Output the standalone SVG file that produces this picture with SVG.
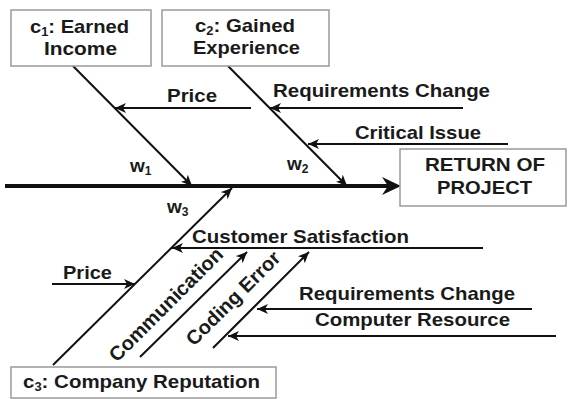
<svg xmlns="http://www.w3.org/2000/svg" width="568" height="399" viewBox="0 0 568 399">
<style>
.box{fill:#fff;stroke:#9a9a9a;stroke-width:1.5}
.t{font-family:"Liberation Sans",Arial,sans-serif;font-weight:bold;font-size:19px;fill:#1a1a1a}
.ln{stroke:#111;stroke-width:2;fill:none;marker-end:url(#ah)}
.sub{font-size:12px}
</style>
<defs>
<marker id="ah" markerUnits="userSpaceOnUse" markerWidth="12" markerHeight="10" viewBox="0 0 12 10" refX="11" refY="5" orient="auto">
<path d="M0,0 L11,5 L0,10 L3,5 z" fill="#111"/>
</marker>
</defs>
<rect width="568" height="399" fill="#fff"/>
<g id="connectors">
<line x1="5" y1="186" x2="390" y2="186" stroke="#111" stroke-width="4"/>
<polygon points="401,186 382,177 388,186 382,195" fill="#111"/>
<line class="ln" x1="73" y1="66" x2="192" y2="186"/>
<line class="ln" x1="228" y1="66" x2="347" y2="186"/>
<line class="ln" x1="53" y1="365" x2="232" y2="188"/>
<line class="ln" x1="251" y1="108" x2="115" y2="108"/>
<line class="ln" x1="463" y1="108" x2="270" y2="108"/>
<line class="ln" x1="508" y1="144" x2="308" y2="144"/>
<line class="ln" x1="483" y1="248" x2="172" y2="248"/>
<line class="ln" x1="52" y1="284" x2="135" y2="284"/>
<line class="ln" x1="140" y1="357" x2="247" y2="252"/>
<line class="ln" x1="213" y1="348" x2="309" y2="252"/>
<line class="ln" x1="532" y1="309" x2="257" y2="309"/>
<line class="ln" x1="556" y1="336" x2="228" y2="336"/>
</g>
<g id="c1">
<rect class="box" x="11" y="10" width="140" height="56"/>
<text class="t" x="30" y="33" textLength="99" lengthAdjust="spacingAndGlyphs">c<tspan class="sub" dy="3">1</tspan><tspan dy="-3">: Earned</tspan></text>
<text class="t" x="44" y="55" textLength="73" lengthAdjust="spacingAndGlyphs">Income</text>
</g>
<g id="c2">
<rect class="box" x="162" y="10" width="167" height="56"/>
<text class="t" x="195" y="32" textLength="100" lengthAdjust="spacingAndGlyphs">c<tspan class="sub" dy="3">2</tspan><tspan dy="-3">: Gained</tspan></text>
<text class="t" x="193" y="54" textLength="107" lengthAdjust="spacingAndGlyphs">Experience</text>
</g>
<g id="return">
<rect class="box" x="400" y="149" width="166" height="57"/>
<text class="t" x="425" y="171" textLength="120" lengthAdjust="spacingAndGlyphs">RETURN OF</text>
<text class="t" x="437" y="194" textLength="95" lengthAdjust="spacingAndGlyphs">PROJECT</text>
</g>
<g id="c3">
<rect class="box" x="11" y="367" width="265" height="31"/>
<text class="t" x="23" y="388" textLength="237" lengthAdjust="spacingAndGlyphs">c<tspan class="sub" dy="3">3</tspan><tspan dy="-3">: Company Reputation</tspan></text>
</g>
<g id="labels">
<text class="t" x="130" y="172">w<tspan class="sub" dy="3">1</tspan></text>
<text class="t" x="287" y="170">w<tspan class="sub" dy="3">2</tspan></text>
<text class="t" x="167" y="213">w<tspan class="sub" dy="3">3</tspan></text>
<text class="t" x="167" y="102" textLength="50" lengthAdjust="spacingAndGlyphs">Price</text>
<text class="t" x="273" y="97" textLength="217" lengthAdjust="spacingAndGlyphs">Requirements Change</text>
<text class="t" x="355" y="139" textLength="126" lengthAdjust="spacingAndGlyphs">Critical Issue</text>
<text class="t" x="192" y="243" textLength="217" lengthAdjust="spacingAndGlyphs">Customer Satisfaction</text>
<text class="t" x="63" y="279" textLength="49" lengthAdjust="spacingAndGlyphs">Price</text>
<text class="t" x="299" y="300" textLength="216" lengthAdjust="spacingAndGlyphs">Requirements Change</text>
<text class="t" x="315" y="326" textLength="195" lengthAdjust="spacingAndGlyphs">Computer Resource</text>
<text class="t" style="font-size:20px" transform="translate(117,363) rotate(-45)" textLength="152" lengthAdjust="spacingAndGlyphs">Communication</text>
<text class="t" style="font-size:20px" transform="translate(194,347) rotate(-45)" textLength="124" lengthAdjust="spacingAndGlyphs">Coding Error</text>
</g>
</svg>
